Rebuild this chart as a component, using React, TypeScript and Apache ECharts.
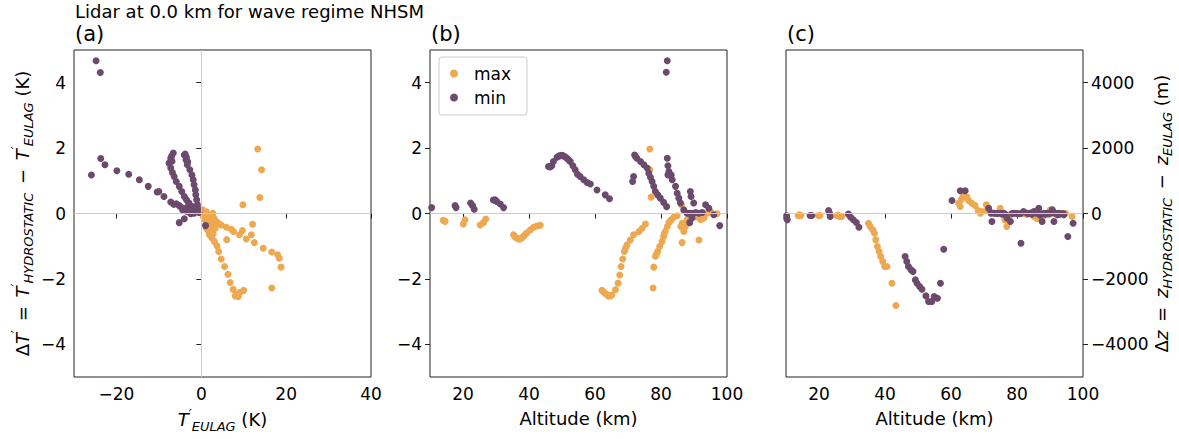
import React, { useEffect, useRef } from "react";
import * as echarts from "echarts";

// Panel (a): T'_EULAG (K) vs ΔT' (K)
const maxA: [number, number][] = [
  [13.3, 1.97], [14.2, 1.34], [13.8, 0.49], [9.8, 0.27],
  [0.3, 0.11], [0.7, -0.04], [1.5, -0.14], [2.7, 0.01], [2.3, -0.24], [1.1, -0.35], [1.9, -0.4], [0.5, -0.1],
  [1.2, 0.05], [2.0, -0.08], [0.9, -0.2], [3.0, -0.15],
  [3.5, -0.24], [4.7, -0.35], [5.9, -0.42], [7.1, -0.48], [7.6, -0.55], [9.7, -0.52], [9.0, -0.65], [10.6, -0.78],
  [12.1, -0.33], [11.8, -0.65], [12.5, -0.89], [14.6, -1.06], [16.6, -1.18], [18.0, -1.26], [18.4, -1.37],
  [18.8, -1.64], [16.6, -2.28], [6.0, -0.8],
  [1.5, -0.5], [1.9, -0.65], [2.5, -0.75], [3.1, -0.86], [3.7, -0.99], [4.1, -1.16], [4.7, -1.39], [5.5, -1.62],
  [6.3, -1.86], [6.8, -2.11], [7.5, -2.32], [8.3, -2.47], [8.7, -2.54], [8.0, -2.52], [9.0, -2.42], [10.0, -2.35],
  [1.2, -0.45], [1.6, -0.3], [2.2, -0.55], [2.8, -0.62], [3.3, -0.45], [4.0, -0.3], [2.6, -0.35],
];
const minA: [number, number][] = [
  [-24.8, 4.67], [-23.8, 4.31], [-25.9, 1.18],
  [-23.7, 1.68], [-22.7, 1.49], [-19.9, 1.31], [-17.1, 1.2], [-14.6, 1.03], [-12.5, 0.83], [-10.4, 0.66],
  [-10.0, 0.67], [-8.8, 0.52], [-7.2, 0.35], [-5.9, 0.3], [-5.2, 0.24],
  [-6.6, 1.85], [-7.2, 1.69], [-7.6, 1.54], [-7.2, 1.39], [-6.8, 1.25], [-6.4, 1.13], [-5.9, 0.98], [-5.2, 0.83],
  [-4.6, 0.67], [-4.0, 0.52], [-3.5, 0.42], [-2.9, 0.32], [-2.1, 0.21], [-1.3, 0.11], [-0.5, 0.03],
  [-7.0, 1.75], [-6.9, 1.6],
  [-4.0, 1.79], [-3.6, 1.64], [-3.3, 1.49], [-2.7, 1.34], [-2.2, 1.18], [-1.9, 1.03], [-1.7, 0.88], [-1.4, 0.72],
  [-1.3, 0.57], [-1.1, 0.42], [-0.9, 0.27], [-0.6, 0.13], [-3.8, 1.82], [-3.5, 1.72], [-3.2, 1.58],
  [-5.2, -0.28], [-4.0, -0.16], [-3.3, 0.06], [-2.5, -0.01], [-1.7, 0.01], [1.0, -0.37],
  [-4.4, 0.11], [-3.7, 0.16], [-2.9, 0.06], [-2.1, 0.16], [-3.0, 0.25], [-4.8, 0.2], [-1.5, 0.05], [-6.5, 0.28],
];

// Panel (b): Altitude (km) vs ΔT' (K)
const maxB: [number, number][] = [
  [14.0, -0.21], [14.6, -0.24], [20.1, -0.32], [20.6, -0.19], [25.2, -0.35], [26.2, -0.28], [26.9, -0.17],
  [35.3, -0.65], [36.3, -0.75], [37.3, -0.78], [38.3, -0.7], [39.3, -0.6], [40.4, -0.5], [41.4, -0.42],
  [42.4, -0.38], [43.4, -0.36], [35.8, -0.72], [36.8, -0.78], [37.8, -0.75], [38.8, -0.65],
  [62.1, -2.35], [63.1, -2.44], [64.1, -2.52], [65.1, -2.49], [66.2, -2.33], [67.0, -2.13], [67.5, -1.88],
  [67.9, -1.62], [68.4, -1.39], [68.9, -1.16], [69.7, -0.96], [70.7, -0.81], [71.7, -0.65], [73.3, -0.55],
  [74.3, -0.45], [75.3, -0.32], [62.6, -2.4], [63.6, -2.48], [64.6, -2.52], [69.3, -1.05],
  [76.6, 1.97], [76.6, 1.34], [77.0, 0.5],
  [77.6, -2.28], [77.8, -1.64], [78.3, -1.31], [79.0, -1.16], [79.6, -1.01], [80.3, -0.86], [80.8, -0.7],
  [81.3, -0.55], [81.9, -0.4], [82.4, -0.28], [83.1, -0.19], [83.9, -0.11], [84.9, -0.07], [78.6, -1.25],
  [81.0, -0.62], [82.8, -0.23],
  [86.2, 0.27], [86.4, -0.3], [86.4, -0.89], [86.9, -0.55], [87.4, -0.4], [87.9, -0.19], [88.7, -0.04],
  [91.5, -0.81], [92.0, -0.19], [93.0, -0.14], [94.0, 0.01], [95.0, 0.06], [97.0, -0.01], [86.0, -0.4], [90.5, -0.1],
];
const minB: [number, number][] = [
  [10.5, 0.18], [17.6, 0.24], [17.9, 0.18], [22.3, 0.32], [22.9, 0.24], [23.4, 0.13], [29.2, 0.41], [30.2, 0.37],
  [31.3, 0.29], [32.3, 0.18], [29.7, 0.42],
  [45.9, 1.44], [46.9, 1.46], [47.4, 1.59], [48.5, 1.72], [49.5, 1.77], [50.5, 1.76], [51.5, 1.69], [52.5, 1.59],
  [53.3, 1.46], [54.0, 1.34], [54.7, 1.2], [55.5, 1.13], [56.6, 1.03], [57.6, 0.95], [58.6, 0.9], [60.6, 0.72],
  [63.1, 0.57], [64.4, 0.45], [46.4, 1.42], [49.0, 1.76], [50.0, 1.78], [51.0, 1.73], [52.0, 1.64],
  [71.4, 0.98], [71.7, 1.13],
  [72.0, 1.79], [72.7, 1.69], [73.8, 1.59], [74.8, 1.49], [75.8, 1.39], [76.3, 1.23], [76.8, 1.11], [77.3, 0.98],
  [77.8, 0.83], [78.3, 0.67], [79.0, 0.57], [79.8, 0.47], [80.8, 0.34], [81.7, 0.21], [72.3, 1.74],
  [81.9, 4.67], [81.6, 4.32],
  [81.9, 1.69], [82.1, 1.46], [82.4, 1.28], [82.1, 1.18], [83.1, 1.18], [83.4, 1.03], [84.4, 0.83], [84.9, 0.62],
  [85.4, 0.47], [85.9, 0.32], [86.9, 0.11], [87.9, 0.01],
  [88.9, 0.67], [89.1, 0.52], [89.9, 0.32], [88.7, 0.01], [89.4, 0.01], [90.5, 0.03], [91.5, 0.01], [92.5, 0.03],
  [93.5, 0.27], [94.5, 0.16], [96.0, -0.04], [97.8, -0.37], [88.7, -0.28], [89.4, -0.14],
];

// Panel (c): Altitude (km) vs Δz (m)
const maxC: [number, number][] = [
  [13.7, -61], [14.5, -61], [19.8, -61], [20.3, -61], [25.4, -61], [26.2, -92], [26.9, -92], [14.1, -40], [25.8, -50],
  [35.0, -296], [35.5, -398], [36.3, -500], [36.8, -602], [37.2, -806], [37.7, -1010], [38.2, -1163], [38.7, -1316],
  [39.3, -1469], [39.9, -1622], [40.6, -1622], [42.1, -2132], [43.3, -2815],
  [62.3, 316], [62.8, 214], [63.6, 520], [64.8, 500], [65.3, 398], [66.3, 316], [67.3, 245], [68.9, 10], [69.4, 61],
  [70.7, 265], [73.4, 10], [74.9, 163], [76.9, -398], [77.9, -41], [80.0, 10], [85.1, -92], [85.5, 61], [87.1, 10],
  [89.1, 10], [90.1, 112], [92.2, 10], [94.7, 10], [96.7, -92], [63.1, 420], [68.2, 90], [76.3, -200], [82.0, 0], [84.0, 20],
  [71.0, 100], [72.0, 50], [75.5, 20], [78.5, -20], [81.0, 0], [83.0, -30], [86.0, -150], [88.0, -80], [89.5, -40],
  [91.0, 0], [93.5, 0], [77.5, -100], [79.5, 0],
];
const minC: [number, number][] = [
  [10.2, -143], [10.4, -194], [10.2, -71], [17.3, -61], [17.8, -61], [22.9, 92], [23.2, 10], [23.4, -92],
  [28.9, -20], [29.6, -112], [30.4, -194], [31.3, -275], [32.1, -418],
  [46.1, -1316], [46.6, -1469], [47.1, -1622], [47.9, -1724], [48.5, -1775], [49.2, -2030], [49.7, -2132],
  [50.5, -2234], [51.2, -2316], [52.4, -2520], [53.2, -2693], [54.2, -2693], [54.9, -2540], [55.9, -2591],
  [56.8, -2132], [57.8, -1091],
  [60.3, 398], [62.8, 694], [64.3, 694],
  [71.4, 163], [72.1, 10], [72.4, -245], [73.9, 10], [74.9, 10], [77.0, -143], [78.0, -245], [79.0, 10],
  [81.2, -908], [82.0, 61], [83.0, 10], [85.1, 61], [86.6, 163], [87.6, -245], [88.1, 10], [89.2, 10], [90.7, 112],
  [91.7, 10], [92.2, -41], [91.2, -245], [92.7, 10], [94.2, -41], [95.4, -704], [97.0, -296], [73.0, 10], [76.0, 10],
  [84.0, 10], [86.0, 10],
  [74.0, 0], [75.5, -20], [76.5, -30], [78.5, 0], [80.0, 0], [81.0, -10], [83.5, 0], [84.5, -20], [86.5, 0],
  [87.0, -50], [88.5, -20], [90.0, 0], [91.0, 30], [93.0, -20], [94.0, 0],
];

const tTicks = [-20, 0, 20, 40];
const altTicks = [20, 40, 60, 80, 100];
const dTTicks = [-4, -2, 0, 2, 4];
const dzTicks = [-4000, -2000, 0, 2000, 4000];

const ORANGE = "#eda850";
const PURPLE = "#6c4a6d";
const FONT = "DejaVu Sans";

const rich = {
  n: { fontSize: 18, fontFamily: FONT, color: "#000", lineHeight: 26, verticalAlign: "middle" },
  op: { fontSize: 18, fontFamily: FONT, color: "#000", lineHeight: 26, verticalAlign: "middle", padding: [0, 3, 0, 3] },
  i: { fontSize: 18, fontFamily: FONT, fontStyle: "italic", color: "#000", lineHeight: 26, verticalAlign: "middle" },
  sup: { fontSize: 13, fontFamily: FONT, fontStyle: "italic", color: "#000", lineHeight: 13, verticalAlign: "top" },
  sub: { fontSize: 13, fontFamily: FONT, fontStyle: "italic", color: "#000", lineHeight: 13, verticalAlign: "bottom" },
};

const minus = (v: number) => String(v).replace("-", "\u2212");

function xAxis(gridIndex: number, min: number, max: number, ticks: number[], name: string, nameGap: number) {
  return {
    type: "value",
    gridIndex,
    min,
    max,
    axisLine: { show: false },
    axisTick: { show: true, length: 5, lineStyle: { color: "#222" }, customValues: ticks },
    axisLabel: { fontSize: 17, fontFamily: FONT, color: "#000", margin: 8, formatter: minus, customValues: ticks },
    splitLine: { show: false },
    name,
    nameLocation: "middle",
    nameGap,
    nameTextStyle: { rich },
  };
}

function yAxis(gridIndex: number, min: number, max: number, ticks: number[], position: string, name: string, nameGap: number) {
  return {
    type: "value",
    gridIndex,
    min,
    max,
    position,
    axisLine: { show: false },
    axisTick: { show: true, length: 5, lineStyle: { color: "#222" }, customValues: ticks },
    axisLabel: {
      fontSize: 17,
      fontFamily: FONT,
      color: "#000",
      margin: 8,
      formatter: minus,
      customValues: ticks,
    },
    splitLine: { show: false },
    name,
    nameLocation: "middle",
    nameRotate: 90,
    nameGap,
    nameTextStyle: { rich },
  };
}

function scatter(name: string, data: [number, number][], idx: number, color: string) {
  return {
    type: "scatter",
    name,
    data,
    xAxisIndex: idx,
    yAxisIndex: idx,
    symbol: "circle",
    symbolSize: 7,
    itemStyle: { color, opacity: 1 },
    z: 3,
  };
}

function refLines(idx: number, vertical: boolean) {
  const data: any[] = [{ yAxis: 0 }];
  if (vertical) data.push({ xAxis: 0 });
  return {
    type: "scatter",
    name: "ref" + idx,
    data: [],
    xAxisIndex: idx,
    yAxisIndex: idx,
    z: 1,
    markLine: {
      silent: true,
      symbol: "none",
      label: { show: false },
      lineStyle: { color: "#cccccc", width: 1, type: "solid" },
      data,
    },
  };
}

export default function App() {
  const ref = useRef<HTMLDivElement>(null);
  useEffect(() => {
    if (!ref.current) return;
    const chart = echarts.init(ref.current, undefined, { renderer: "svg" });
    const gridCommon = { top: 50, height: 327, width: 297, show: true, borderColor: "#222", borderWidth: 1, backgroundColor: "transparent" };
    chart.setOption({
      animation: false,
      backgroundColor: "#fff",
      grid: [
        { ...gridCommon, left: 74 },
        { ...gridCommon, left: 430 },
        { ...gridCommon, left: 786 },
      ],
      xAxis: [
        xAxis(0, -30, 40, tTicks, "{i|T}{sup|\u2032}{sub|EULAG}{n| (K)}", 26),
        xAxis(1, 10, 100, altTicks, "{n|Altitude (km)}", 28),
        xAxis(2, 10, 100, altTicks, "{n|Altitude (km)}", 28),
      ],
      yAxis: [
        yAxis(0, -5, 5, dTTicks, "left",
          "{n|\u0394}{i|T}{sup|\u2032}{op| = }{i|T}{sup|\u2032}{sub|HYDROSTATIC}{op| \u2212 }{i|T}{sup|\u2032}{sub|EULAG}{n| (K)}", 39),
        yAxis(1, -5, 5, dTTicks, "left", "", 30),
        yAxis(2, -5000, 5000, dzTicks, "right",
          "{n|\u0394}{i|z}{op| = }{i|z}{sub|HYDROSTATIC}{op| \u2212 }{i|z}{sub|EULAG}{n| (m)}", 63),
      ],
      legend: {
        data: ["max", "min"],
        left: 439,
        top: 57,
        orient: "vertical",
        icon: "circle",
        itemWidth: 30,
        itemHeight: 8,
        itemGap: 7,
        padding: [8, 16, 9, 11],
        borderColor: "#cccccc",
        borderWidth: 1,
        borderRadius: 3,
        backgroundColor: "rgba(255,255,255,0.8)",
        textStyle: { fontSize: 17, fontFamily: FONT, color: "#000" },
      },
      graphic: [
        { type: "text", x: 75, y: 11, style: { text: "Lidar at 0.0 km for wave regime NHSM", font: `18px '${FONT}'`, fill: "#000", textVerticalAlign: "middle" } },
        { type: "text", x: 75, y: 34, style: { text: "(a)", font: `21px '${FONT}'`, fill: "#000", textVerticalAlign: "middle" } },
        { type: "text", x: 431, y: 34, style: { text: "(b)", font: `21px '${FONT}'`, fill: "#000", textVerticalAlign: "middle" } },
        { type: "text", x: 787, y: 34, style: { text: "(c)", font: `21px '${FONT}'`, fill: "#000", textVerticalAlign: "middle" } },
      ],
      series: [
        refLines(0, true),
        refLines(1, false),
        refLines(2, false),
        scatter("max", maxA, 0, ORANGE),
        scatter("min", minA, 0, PURPLE),
        scatter("max", maxB, 1, ORANGE),
        scatter("min", minB, 1, PURPLE),
        scatter("max", maxC, 2, ORANGE),
        scatter("min", minC, 2, PURPLE),
      ],
    });
    return () => chart.dispose();
  }, []);
  return <div ref={ref} style={{ width: 1179, height: 439, position: "absolute", left: 0, top: 0 }} />;
}
